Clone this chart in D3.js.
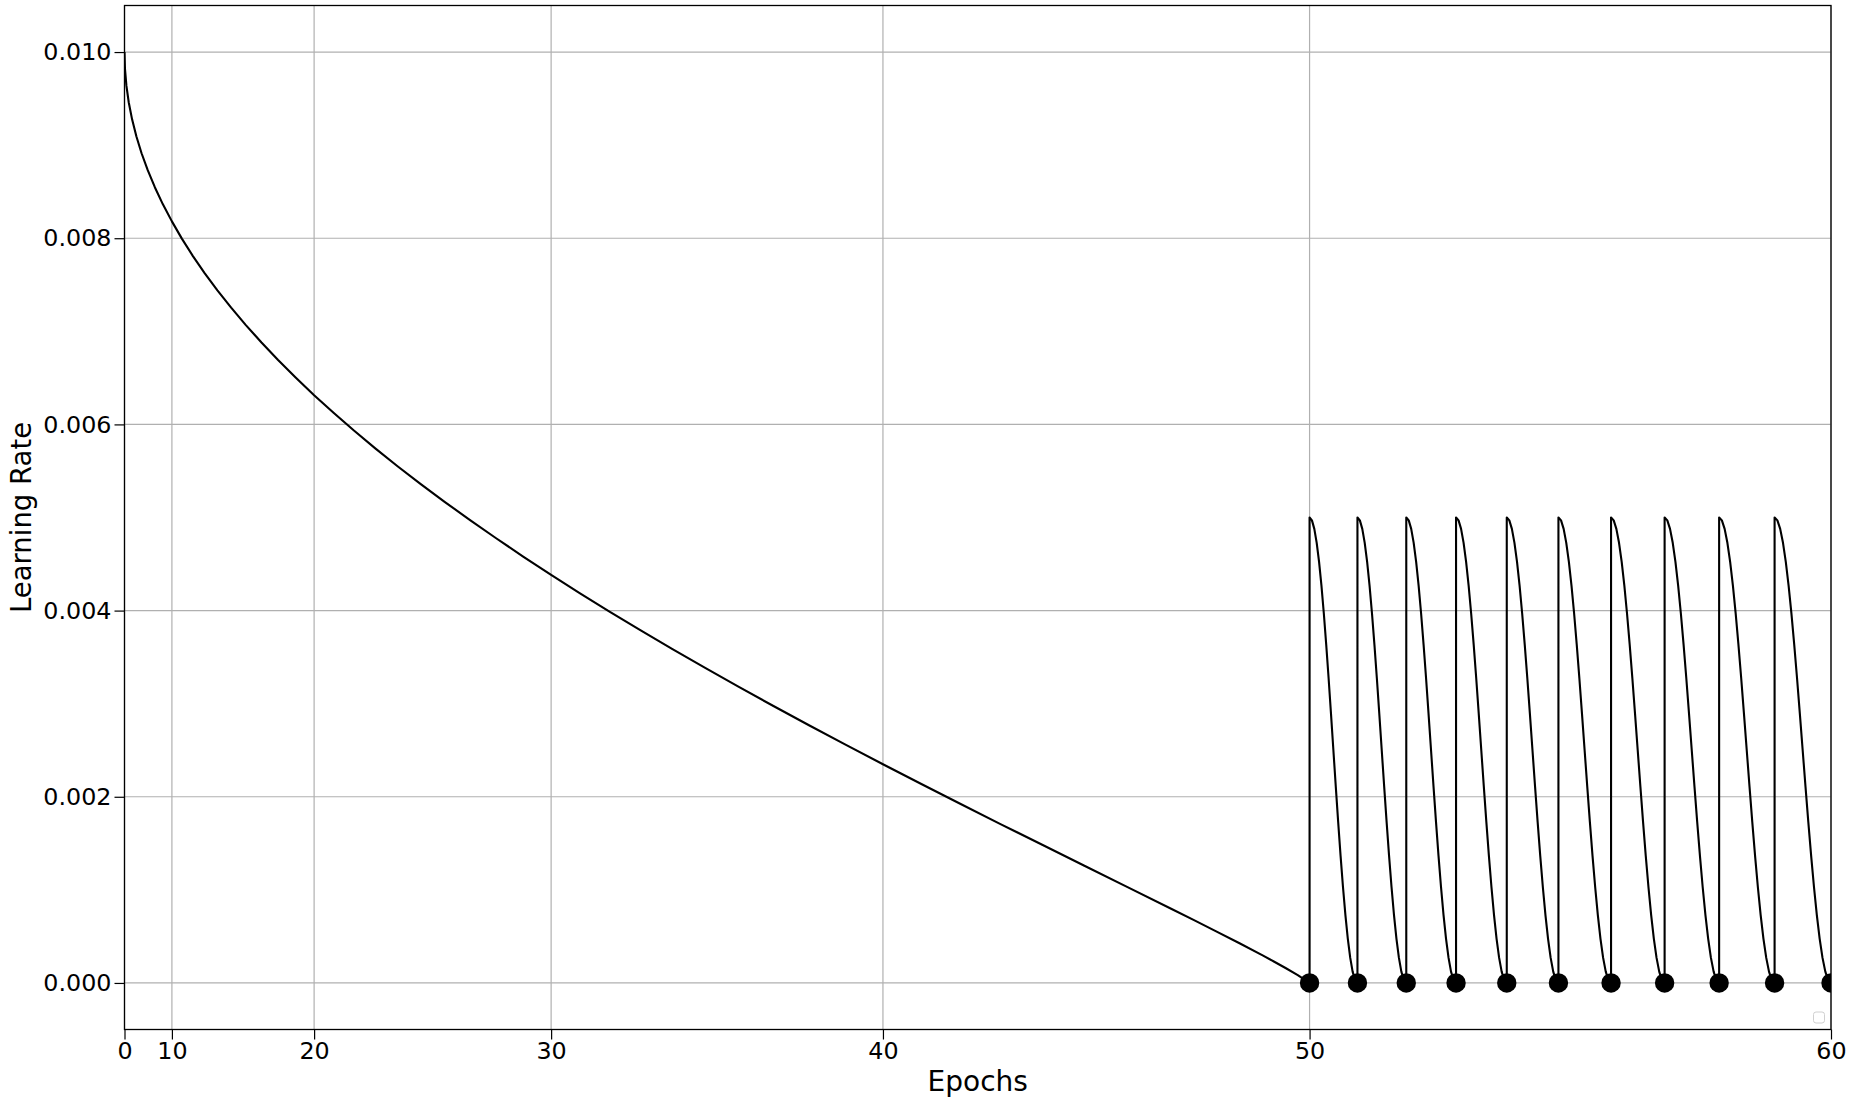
<!DOCTYPE html>
<html>
<head>
<meta charset="utf-8">
<script src="https://cdn.jsdelivr.net/npm/d3@7/dist/d3.min.js"></script>
<style>
html,body{margin:0;padding:0;background:#fff;}
svg{display:block;font-family:"DejaVu Sans",sans-serif;}
</style>
</head>
<body>
<svg id="chart" width="1853" height="1103"></svg>
<script>
// Phase 1: decay from epoch 0 to 50 (learning rate read at each epoch)
const decayEpochs = [
  0, 1, 2, 3, 4, 5, 6, 7, 8, 9,
  10, 11, 12, 13, 14, 15, 16, 17, 18, 19,
  20, 21, 22, 23, 24, 25, 26, 27, 28, 29,
  30, 31, 32, 33, 34, 35, 36, 37, 38, 39,
  40, 41, 42, 43, 44, 45, 46, 47, 47.5, 48, 48.5, 49, 49.25, 49.5, 49.75, 50
];
const decayLR = [
  0.010000, 0.009820, 0.009639, 0.009458, 0.009277, 0.009095, 0.008913, 0.008731, 0.008548, 0.008364,
  0.008181, 0.007996, 0.007811, 0.007626, 0.007440, 0.007254, 0.007067, 0.006880, 0.006692, 0.006504,
  0.006314, 0.006125, 0.005934, 0.005743, 0.005551, 0.005359, 0.005166, 0.004972, 0.004777, 0.004581,
  0.004384, 0.004186, 0.003987, 0.003787, 0.003586, 0.003384, 0.003180, 0.002975, 0.002768, 0.002560,
  0.002349, 0.002137, 0.001922, 0.001704, 0.001484, 0.001259, 0.001030, 0.000795, 0.000675, 0.000552,
  0.000426, 0.000296, 0.000228, 0.000158, 0.000085, 0.000000
];
// Phase 2: warm restarts, one cycle per epoch
const restartEpochs = [50, 51, 52, 53, 54, 55, 56, 57, 58, 59];
const cycleFraction = [0, 0.05, 0.1, 0.15, 0.2, 0.25, 0.3, 0.35, 0.4, 0.45, 0.5,
                       0.55, 0.6, 0.65, 0.7, 0.75, 0.8, 0.85, 0.9, 0.95, 1.0];
const cycleLR = [0.005000, 0.004969, 0.004878, 0.004728, 0.004523, 0.004268, 0.003969,
                 0.003635, 0.003273, 0.002891, 0.002500, 0.002109, 0.001727, 0.001365,
                 0.001031, 0.000732, 0.000477, 0.000272, 0.000122, 0.000031, 0.000000];
// Restart markers
const markerEpochs = [50, 51, 52, 53, 54, 55, 56, 57, 58, 59, 60];
const markerLR = [0, 0, 0, 0, 0, 0, 0, 0, 0, 0, 0];
// Ticks
const xTicks = [0, 10, 20, 30, 40, 50, 60];
const yTicks = [0.000, 0.002, 0.004, 0.006, 0.008, 0.010];

const L = 124.5, R = 1831, T = 5.5, B = 1029.5;
const svg = d3.select("#chart");

const x = d3.scalePow().exponent(2).domain([0, 60]).range([L, R]);
const y = d3.scaleLinear().domain([-0.0005, 0.0105]).range([B, T]);

svg.append("defs").append("clipPath").attr("id", "clip")
  .append("rect").attr("x", L).attr("y", T).attr("width", R - L).attr("height", B - T);

// grid
const grid = svg.append("g");
grid.selectAll(".gx").data(xTicks).join("line")
  .attr("x1", d => x(d)).attr("x2", d => x(d)).attr("y1", T).attr("y2", B)
  .attr("stroke", "#b0b0b0").attr("stroke-width", 1.2);
grid.selectAll(".gy").data(yTicks).join("line")
  .attr("y1", d => y(d)).attr("y2", d => y(d)).attr("x1", L).attr("x2", R)
  .attr("stroke", "#b0b0b0").attr("stroke-width", 1.2);

// data line
const pts = decayEpochs.map((e, i) => [e, decayLR[i]]);
restartEpochs.forEach(e => {
  cycleFraction.forEach((f, i) => pts.push([e + f, cycleLR[i]]));
});
const line = d3.line().x(d => x(d[0])).y(d => y(d[1]));
const plot = svg.append("g").attr("clip-path", "url(#clip)");
plot.append("path").datum(pts).attr("d", line)
  .attr("fill", "none").attr("stroke", "#000").attr("stroke-width", 2.1)
  .attr("stroke-linejoin", "round");
plot.selectAll("circle").data(markerEpochs).join("circle")
  .attr("cx", d => x(d)).attr("cy", (d, i) => y(markerLR[i])).attr("r", 9.7)
  .attr("fill", "#000");

// axes
const xAxis = d3.axisBottom(x).tickValues(xTicks).tickFormat(d3.format("d"))
  .tickSizeInner(10).tickSizeOuter(0).tickPadding(2.3);
const gx = svg.append("g").attr("transform", `translate(0,${B})`).call(xAxis);
const yAxis = d3.axisLeft(y).tickValues(yTicks).tickFormat(d3.format(".3f"))
  .tickSizeInner(10).tickSizeOuter(0).tickPadding(3);
const gy = svg.append("g").attr("transform", `translate(${L},0)`).call(yAxis);
[gx, gy].forEach(g => {
  g.select(".domain").remove();
  g.selectAll(".tick line").attr("stroke", "#000").attr("stroke-width", 1.2);
  g.selectAll(".tick text").attr("fill", "#000").style("font-size", "23.8px")
    .style("font-family", "'DejaVu Sans', sans-serif");
});

// frame
svg.append("rect").attr("x", L).attr("y", T).attr("width", R - L).attr("height", B - T)
  .attr("fill", "none").attr("stroke", "#000").attr("stroke-width", 1.3);

// empty legend box
svg.append("rect").attr("x", 1813.5).attr("y", 1012).attr("width", 11).attr("height", 11)
  .attr("rx", 2.5).attr("fill", "#fff").attr("stroke", "#d0d0d0").attr("stroke-width", 1);

// labels
svg.append("text").attr("x", (L + R) / 2).attr("y", 1091).attr("text-anchor", "middle")
  .style("font-size", "28px").attr("fill", "#000").text("Epochs");
svg.append("text").attr("transform", `translate(30.5,${(T + B) / 2}) rotate(-90)`)
  .attr("text-anchor", "middle").style("font-size", "27.5px").attr("fill", "#000")
  .text("Learning Rate");
</script>
</body>
</html>
